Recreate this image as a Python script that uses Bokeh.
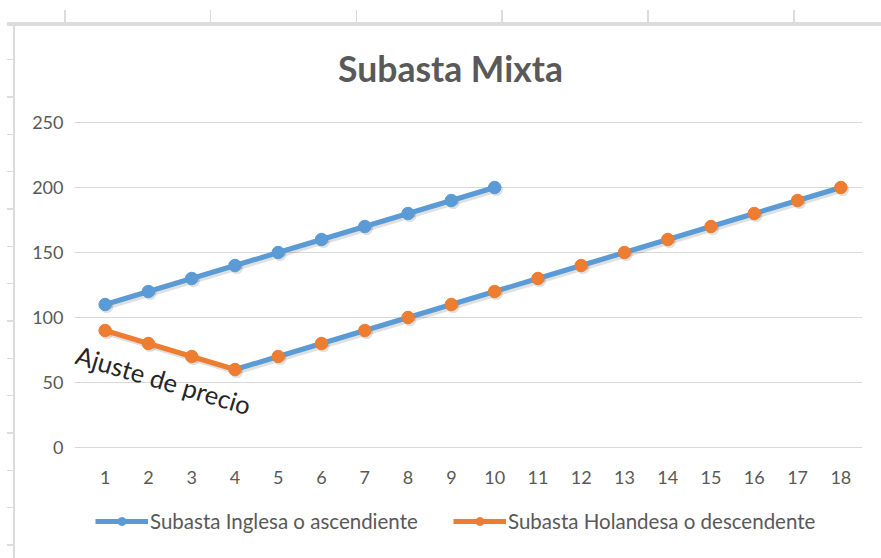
from bokeh.plotting import figure
from bokeh.models import (ColumnDataSource, Label, Legend, LegendItem, FixedTicker, Range1d)
from bokeh.transform import dodge
from bokeh.embed import file_html
from bokeh.resources import INLINE

# ---------------- data ----------------
title_text = "Subasta Mixta"
categories = list(range(1, 19))
inglesa_x = [1, 2, 3, 4, 5, 6, 7, 8, 9, 10]
inglesa_y = [110, 120, 130, 140, 150, 160, 170, 180, 190, 200]
holandesa_x = [1, 2, 3, 4, 5, 6, 7, 8, 9, 10, 11, 12, 13, 14, 15, 16, 17, 18]
holandesa_y = [90, 80, 70, 60, 70, 80, 90, 100, 110, 120, 130, 140, 150, 160, 170, 180, 190, 200]
adjust_end = 4  # the price adjustment (descending) segment ends at period 4
y_ticks = [0, 50, 100, 150, 200, 250]
series_names = ["Subasta Inglesa o ascendiente", "Subasta Holandesa o descendente"]
annotation_text = "Ajuste de precio"

BLUE = "#5B9BD5"
ORANGE = "#ED7D31"
GRAY = "#595959"
GRID = "#D9D9D9"
DECO = "#DCDCDC"
FONT = "Lato"

W, H = 881, 558

src_ing = ColumnDataSource(dict(x=inglesa_x, y=inglesa_y))
src_hol = ColumnDataSource(dict(x=holandesa_x, y=holandesa_y))
k = holandesa_x.index(adjust_end)
src_hol_down = ColumnDataSource(dict(x=holandesa_x[:k + 1], y=holandesa_y[:k + 1]))
src_hol_up = ColumnDataSource(dict(x=holandesa_x[k:], y=holandesa_y[k:]))

# spreadsheet grid peeking around the chart (CSS background of the host element)
sheet_bg = {
    "background-image": ", ".join([
        f"linear-gradient({DECO}, {DECO})",
        f"linear-gradient({DECO}, {DECO})",
        f"repeating-linear-gradient(to right, {DECO} 0px, {DECO} 1.5px, transparent 1.5px, transparent 145.8px)",
        f"repeating-linear-gradient(to bottom, {DECO} 0px, {DECO} 1.5px, transparent 1.5px, transparent 37.33px)",
    ]),
    "background-position": "7px 22px, 13px 26px, 64px 10px, 7px 59px",
    "background-size": "874px 4px, 2px 532px, 817px 13px, 6px 499px",
    "background-repeat": "no-repeat",
}

p = figure(width=W, height=H, output_backend="svg", toolbar_location=None,
           x_range=Range1d(0.292, 18.5), y_range=Range1d(-85.38, 320.77),
           min_border_left=74, min_border_right=19, min_border_top=30, min_border_bottom=0,
           styles=sheet_bg)
p.outline_line_color = None
p.background_fill_color = "white"
p.border_fill_color = None

# axes
p.xaxis.ticker = FixedTicker(ticks=categories)
p.yaxis.ticker = FixedTicker(ticks=y_ticks)
p.xaxis.fixed_location = 0
for ax in (p.xaxis, p.yaxis):
    ax.axis_line_color = None
    ax.major_tick_line_color = None
    ax.minor_tick_line_color = None
    ax.major_tick_out = 0
    ax.major_tick_in = 0
    ax.major_label_text_font = FONT
    ax.major_label_text_font_size = "18px"
    ax.major_label_text_color = GRAY
p.yaxis.major_label_standoff = 11
p.xaxis.major_label_standoff = 23
p.xgrid.grid_line_color = None
p.ygrid.grid_line_color = GRID
p.ygrid.grid_line_width = 1

# shadows
for s in (src_ing, src_hol):
    p.line(dodge("x", 0.04, range=None), dodge("y", -1.6, range=None), source=s,
           line_color="black", line_alpha=0.12, line_width=6)
    p.scatter(dodge("x", 0.04, range=None), dodge("y", -1.6, range=None), source=s,
              size=13, fill_color="black", fill_alpha=0.12, line_color=None)

# series
p.line("x", "y", source=src_ing, line_color=BLUE, line_width=5)
p.scatter("x", "y", source=src_ing, size=12.5, fill_color=BLUE, line_color=BLUE)
p.line("x", "y", source=src_hol_down, line_color=ORANGE, line_width=5)
p.line("x", "y", source=src_hol_up, line_color=BLUE, line_width=5)
p.scatter("x", "y", source=src_hol, size=12.5, fill_color=ORANGE, line_color=ORANGE)

# legend proxies (a single undefined point, so nothing is drawn in the plot)
proxy = ColumnDataSource(dict(x=[float("nan")], y=[float("nan")]))
items = []
for name, c in zip(series_names, (BLUE, ORANGE)):
    l = p.line("x", "y", source=proxy, line_color=c, line_width=5)
    s = p.scatter("x", "y", source=proxy, size=8, fill_color=c, line_color=c)
    items.append(LegendItem(label=name, renderers=[l, s]))

lg = Legend(items=items, location=(21, 25), orientation="horizontal",
            border_line_color=None, background_fill_alpha=0,
            padding=0, margin=0, spacing=3, glyph_width=53, glyph_height=20,
            label_height=20, label_width=300, label_standoff=2, label_text_font=FONT,
            label_text_font_size="20.5px", label_text_color=GRAY,
            label_text_baseline="middle")
p.add_layout(lg)

# title
p.add_layout(Label(x=8.98, y=291.5, text=title_text,
                   text_align="center", text_baseline="alphabetic", text_font=FONT,
                   text_font_style="bold", text_font_size="35.5px", text_color=GRAY))

# annotation
p.add_layout(Label(x=0.34, y=72, text=annotation_text, angle=-0.29,
                   text_align="left", text_baseline="alphabetic", text_font=FONT,
                   text_font_size="25.5px", text_color="#262626"))

open("out.html", "w").write(file_html(p, INLINE))
